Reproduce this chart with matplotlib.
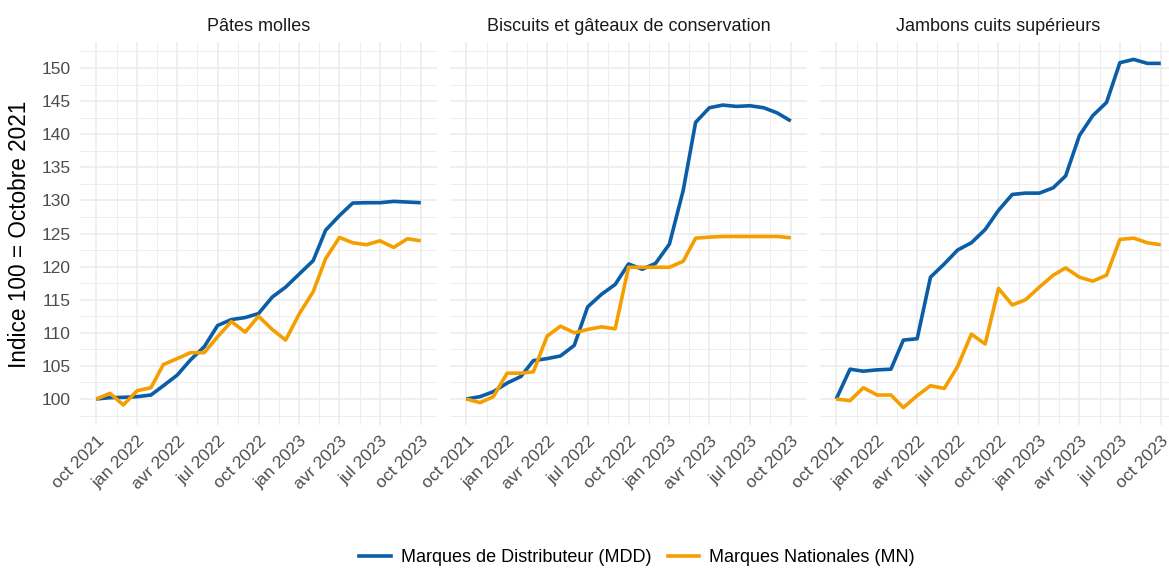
import matplotlib
matplotlib.use("Agg")
import matplotlib.pyplot as plt
import matplotlib.dates as mdates
import matplotlib.transforms as mtransforms
from matplotlib.lines import Line2D
import numpy as np
import pandas as pd

plt.rcParams['font.family'] = ['Liberation Sans', 'DejaVu Sans']

# Monthly price index, base 100 = October 2021
mois = pd.date_range('2021-10-01', periods=25, freq='MS')

categories = ["Pâtes molles",
              "Biscuits et gâteaux de conservation",
              "Jambons cuits supérieurs"]

mdd_pates = [100.0, 100.2, 100.25, 100.35, 100.6, 102.0, 103.6, 105.9, 107.9,
             111.1, 112.0, 112.3, 112.9, 115.4, 116.9, 118.9, 120.9, 125.5,
             127.7, 129.6, 129.65, 129.65, 129.85, 129.75, 129.65]
mn_pates = [100.0, 100.85, 99.1, 101.25, 101.7, 105.2, 106.1, 107.0, 107.0,
            109.4, 111.7, 110.1, 112.5, 110.5, 108.9, 112.9, 116.2, 121.2,
            124.4, 123.6, 123.3, 123.9, 122.9, 124.2, 123.9]

mdd_biscuits = [100.0, 100.35, 101.1, 102.4, 103.4, 105.8, 106.1, 106.5, 108.1,
                113.9, 115.8, 117.3, 120.4, 119.6, 120.5, 123.4, 131.5, 141.8,
                144.0, 144.4, 144.2, 144.3, 144.0, 143.2, 142.0]
mn_biscuits = [100.0, 99.45, 100.35, 103.9, 103.9, 104.1, 109.5, 111.0, 110.0,
               110.5, 110.9, 110.6, 119.9, 119.9, 119.9, 119.9, 120.8, 124.3,
               124.45, 124.55, 124.55, 124.55, 124.55, 124.55, 124.35]

mdd_jambons = [100.0, 104.5, 104.2, 104.4, 104.5, 108.9, 109.1, 118.4, 120.4,
               122.5, 123.6, 125.6, 128.5, 130.9, 131.1, 131.1, 131.9, 133.7,
               139.8, 142.8, 144.8, 150.8, 151.3, 150.7, 150.7]
mn_jambons = [100.0, 99.75, 101.7, 100.6, 100.6, 98.7, 100.5, 102.0, 101.6,
              104.9, 109.8, 108.3, 116.7, 114.2, 115.0, 116.9, 118.7, 119.8,
              118.4, 117.8, 118.7, 124.1, 124.3, 123.6, 123.3]

mdd = [mdd_pates, mdd_biscuits, mdd_jambons]
mn = [mn_pates, mn_biscuits, mn_jambons]

labels_x = ["oct 2021", "jan 2022", "avr 2022", "jul 2022", "oct 2022",
            "jan 2023", "avr 2023", "jul 2023", "oct 2023"]
labels_serie = ["Marques de Distributeur (MDD)", "Marques Nationales (MN)"]

col_mdd = '#0A5DA6'
col_mn = '#F59E00'
grid_col = '#EBEBEB'
txt_col = '#4D4D4D'

W, H = 1169, 569
fig = plt.figure(figsize=(W / 100, H / 100), dpi=100)

# shared scales: 5% expansion as in ggplot
xnum = mdates.date2num(mois)
xpad = 0.05 * (xnum[-1] - xnum[0])
allv = np.concatenate([np.ravel(mdd), np.ravel(mn)])
ypad = 0.05 * (allv.max() - allv.min())
ylim = (allv.min() - ypad, allv.max() + ypad)

major = xnum[::3]
minor = (major[:-1] + major[1:]) / 2
yticks = np.arange(100, 151, 5)
yminor = np.arange(97.5, 153, 5)

lefts = [80, 450, 820]
pw, top, bottom = 357, 42, 425

# nudge rotated date labels a few pixels to the left
shift = mtransforms.ScaledTranslation(-6 / 100, 0, fig.dpi_scale_trans)

for i, left in enumerate(lefts):
    ax = fig.add_axes([left / W, 1 - bottom / H, pw / W, (bottom - top) / H])
    ax.plot(mois, mdd[i], color=col_mdd, lw=2.6, solid_capstyle='butt', zorder=3)
    ax.plot(mois, mn[i], color=col_mn, lw=2.6, solid_capstyle='butt', zorder=4)

    ax.set_xlim(xnum[0] - xpad, xnum[-1] + xpad)
    ax.set_ylim(*ylim)
    ax.set_xticks(major)
    ax.set_xticks(minor, minor=True)
    ax.set_xticklabels(labels_x, rotation=45, ha='right', va='top',
                       rotation_mode='anchor', fontsize=12.5, color=txt_col)
    for lab in ax.get_xticklabels():
        lab.set_transform(lab.get_transform() + shift)
    ax.set_yticks(yticks)
    ax.set_yticks(yminor, minor=True)
    if i == 0:
        ax.set_yticklabels([str(v) for v in yticks], fontsize=12.5, color=txt_col)
    else:
        ax.set_yticklabels([])

    ax.grid(which='major', color=grid_col, lw=1.1)
    ax.grid(which='minor', color=grid_col, lw=0.6)
    ax.set_axisbelow(True)
    ax.tick_params(which='both', length=0)
    ax.tick_params(axis='y', pad=7)
    ax.tick_params(axis='x', pad=6)
    for s in ax.spines.values():
        s.set_visible(False)
    ax.set_title(categories[i], fontsize=13, color='#1A1A1A', pad=8)

fig.text(20 / W, 1 - 234 / H, "Indice 100 = Octobre 2021", rotation=90,
         ha='center', va='center', fontsize=16.3, color='black')

handles = [Line2D([], [], color=col_mdd, lw=2.6),
           Line2D([], [], color=col_mn, lw=2.6)]
fig.legend(handles, labels_serie, loc='center', ncol=2, frameon=False,
           bbox_to_anchor=(637 / W, 1 - 558 / H), fontsize=13,
           handlelength=1.75, handletextpad=0.55, columnspacing=0.9)

fig.savefig('out.png', dpi=100)
